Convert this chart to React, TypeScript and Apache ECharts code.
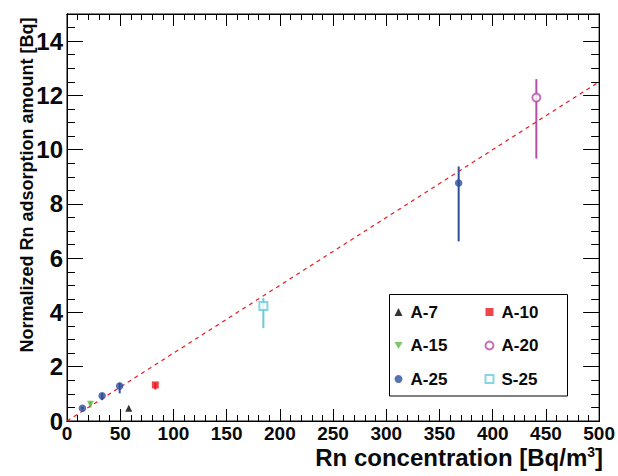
import React, { useEffect, useRef } from "react";
import * as echarts from "echarts";

// ---- data ----
const A7_X = [58];
const A7_Y = [0.47];
const A7_LO = [0];
const A7_HI = [0];

const A10_X = [83];
const A10_Y = [1.33];
const A10_LO = [0.17];
const A10_HI = [0.08];

const A15_X = [22];
const A15_Y = [0.62];
const A15_LO = [0.12];
const A15_HI = [0.1];

const A25_X = [14.5, 33, 49.5, 368];
const A25_Y = [0.47, 0.93, 1.29, 8.77];
const A25_LO = [0.05, 0.16, 0.27, 2.15];
const A25_HI = [0.05, 0.1, 0.12, 0.61];

const A20_X = [441];
const A20_Y = [11.92];
const A20_LO = [2.25];
const A20_HI = [0.68];

const S25_X = [184.5];
const S25_Y = [4.24];
const S25_LO = [0.82];
const S25_HI = [0.29];

const FIT_X = [0, 500];
const FIT_Y = [0, 12.5];

const X_MIN = 0, X_MAX = 500, X_MAJOR = 50, X_MINOR = 10;
const Y_MIN = 0, Y_MAX = 15, Y_MAJOR = 2, Y_MINOR = 0.5;

const FONT = "Liberation Sans";
const TXT = "#0a0a0a";

type Group = {
  name: string;
  xs: number[];
  ys: number[];
  lo: number[];
  hi: number[];
  symbol: string;
  size: number;
  color: string;
  open?: boolean;
};

const GROUPS: Group[] = [
  { name: "A-7", xs: A7_X, ys: A7_Y, lo: A7_LO, hi: A7_HI, symbol: "triangle", size: 7, color: "#000000" },
  { name: "A-10", xs: A10_X, ys: A10_Y, lo: A10_LO, hi: A10_HI, symbol: "rect", size: 7, color: "#e8191f" },
  { name: "A-15", xs: A15_X, ys: A15_Y, lo: A15_LO, hi: A15_HI, symbol: "path://M0,0 L10,0 L5,9 Z", size: 7, color: "#62b846" },
  { name: "A-20", xs: A20_X, ys: A20_Y, lo: A20_LO, hi: A20_HI, symbol: "emptyCircle", size: 8, color: "#b44fa8", open: true },
  { name: "A-25", xs: A25_X, ys: A25_Y, lo: A25_LO, hi: A25_HI, symbol: "circle", size: 7.5, color: "#2e4f9e" },
  { name: "S-25", xs: S25_X, ys: S25_Y, lo: S25_LO, hi: S25_HI, symbol: "emptyRect", size: 8, color: "#6acbd9", open: true },
];

function xAxisCfg(position: string, interval: number, len: number, labels: boolean) {
  return {
    type: "value",
    position,
    min: X_MIN,
    max: X_MAX,
    interval,
    splitLine: { show: false },
    axisLine: { show: true, onZero: false, lineStyle: { color: "#000", width: 1 } },
    axisTick: { show: true, inside: true, length: len, lineStyle: { color: "#000", width: 1 } },
    axisLabel: {
      show: labels,
      margin: 3,
      fontFamily: FONT,
      fontWeight: "bold",
      fontSize: 19,
      color: TXT,
    },
  };
}

function yAxisCfg(position: string, interval: number, len: number, labels: boolean) {
  return {
    type: "value",
    position,
    min: Y_MIN,
    max: Y_MAX,
    interval,
    splitLine: { show: false },
    axisLine: { show: true, onZero: false, lineStyle: { color: "#000", width: 1 } },
    axisTick: { show: true, inside: true, length: len, lineStyle: { color: "#000", width: 1 } },
    axisLabel: {
      show: labels,
      margin: 4,
      fontFamily: FONT,
      fontWeight: "bold",
      fontSize: 24,
      color: TXT,
      showMaxLabel: false,
      formatter: (v: number) => (v > 14 ? "" : String(v)),
    },
  };
}

export default function App() {
  const ref = useRef<HTMLDivElement>(null);

  useEffect(() => {
    if (!ref.current) return;
    const chart = echarts.init(ref.current, undefined, { renderer: "svg" });

    const series: any[] = [];
    GROUPS.forEach((g) => {
      series.push({
        type: "custom",
        name: g.name + "_err",
        xAxisIndex: 0,
        yAxisIndex: 0,
        z: 1,
        silent: true,
        data: g.xs.map((x, i) => [x, g.ys[i], g.lo[i], g.hi[i]]),
        renderItem: (params: any, api: any) => {
          const x = api.value(0);
          const y = api.value(1);
          const lo = api.value(2);
          const hi = api.value(3);
          const p1 = api.coord([x, y - lo]);
          const p2 = api.coord([x, y + hi]);
          return {
            type: "line",
            shape: { x1: p1[0], y1: p1[1], x2: p2[0], y2: p2[1] },
            style: { stroke: g.color, lineWidth: 2 },
          };
        },
      });
    });

    series.push({
      type: "line",
      name: "fit",
      xAxisIndex: 0,
      yAxisIndex: 0,
      z: 2,
      silent: true,
      symbol: "none",
      data: FIT_X.map((x, i) => [x, FIT_Y[i]]),
      lineStyle: { color: "#e8191f", width: 1.2, type: [4, 4] },
    });

    GROUPS.forEach((g) => {
      series.push({
        type: "scatter",
        name: g.name,
        xAxisIndex: 0,
        yAxisIndex: 0,
        z: 3,
        symbol: g.symbol,
        symbolSize: g.size,
        data: g.xs.map((x, i) => [x, g.ys[i]]),
        itemStyle: g.open
          ? { color: g.color, borderColor: g.color, borderWidth: 1.5 }
          : { color: g.color },
      });
    });

    const legendText = {
      fontFamily: FONT,
      fontWeight: "bold",
      fontSize: 17,
      color: TXT,
      lineHeight: 20,
      padding: [0, 0, 0, 3],
    };

    const option: any = {
      animation: false,
      backgroundColor: "#ffffff",
      grid: {
        left: 67,
        top: 14,
        right: 15,
        bottom: 55,
        show: true,
        borderColor: "#000",
        borderWidth: 1,
        backgroundColor: "transparent",
      },
      xAxis: [
        xAxisCfg("bottom", X_MAJOR, 12, true),
        xAxisCfg("bottom", X_MINOR, 6, false),
        xAxisCfg("top", X_MAJOR, 12, false),
        xAxisCfg("top", X_MINOR, 6, false),
      ],
      yAxis: [
        yAxisCfg("left", Y_MAJOR, 16, true),
        yAxisCfg("left", Y_MINOR, 8, false),
        yAxisCfg("right", Y_MAJOR, 16, false),
        yAxisCfg("right", Y_MINOR, 8, false),
      ],
      legend: [
        {
          data: ["A-7", "A-15", "A-25"],
          orient: "vertical",
          left: 394.5,
          top: 302,
          itemWidth: 8,
          itemHeight: 8,
          itemGap: 13.5,
          padding: 0,
          selectedMode: false,
          textStyle: legendText,
        },
        {
          data: ["A-10", "A-20", "S-25"],
          orient: "vertical",
          left: 484.5,
          top: 302,
          itemWidth: 8,
          itemHeight: 8,
          itemGap: 13.5,
          padding: 0,
          selectedMode: false,
          textStyle: legendText,
        },
      ],
      graphic: [
        {
          type: "rect",
          shape: { x: 389.5, y: 294.5, width: 178, height: 101.5 },
          style: { fill: "none", stroke: "#000", lineWidth: 1 },
          z: 10,
          silent: true,
        },
        {
          type: "text",
          x: 27,
          y: 185,
          rotation: Math.PI / 2,
          style: {
            text: "Normalized Rn adsorption amount [Bq]",
            fontFamily: FONT,
            fontWeight: "bold",
            fontSize: 18,
            fill: TXT,
            align: "center",
            verticalAlign: "middle",
          },
        },
        {
          type: "text",
          x: 603,
          y: 457,
          style: {
            text: "Rn concentration [Bq/m{sup|3}]",
            fontFamily: FONT,
            fontWeight: "bold",
            fontSize: 24,
            fill: TXT,
            align: "right",
            verticalAlign: "middle",
            rich: {
              sup: {
                fontFamily: FONT,
                fontWeight: "bold",
                fontSize: 14,
                fill: TXT,
                verticalAlign: "bottom",
                padding: [0, 0, 10, 0],
              },
            },
          },
        },
      ],
      series,
    };

    chart.setOption(option);
    return () => chart.dispose();
  }, []);

  return (
    <div
      ref={ref}
      style={{ position: "fixed", left: 0, top: 0, width: 618, height: 476 }}
    />
  );
}
